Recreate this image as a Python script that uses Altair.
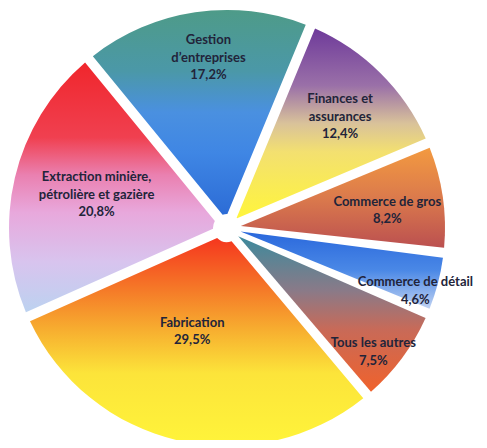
import math
import altair as alt
import pandas as pd

# ---- data ----
names = [
    "Gestion d’entreprises",
    "Finances et assurances",
    "Commerce de gros",
    "Commerce de détail",
    "Tous les autres",
    "Fabrication",
    "Extraction minière, pétrolière et gazière",
]
values = [17.2, 12.4, 8.2, 4.6, 7.5, 29.5, 20.8]
label_lines = [
    ["Gestion", "d’entreprises"],
    ["Finances et", "assurances"],
    ["Commerce de gros"],
    ["Commerce de détail"],
    ["Tous les autres"],
    ["Fabrication"],
    ["Extraction minière,", "pétrolière et gazière"],
]
pct_labels = ["17,2%", "12,4%", "8,2%", "4,6%", "7,5%", "29,5%", "20,8%"]

df = pd.DataFrame({
    "name": names,
    "value": values,
    "label": ["\n".join(l + [p]) for l, p in zip(label_lines, pct_labels)],
})

# ---- styles ----
def grad(stops):
    return {
        "gradient": "linear", "x1": 0, "y1": 0, "x2": 0, "y2": 1,
        "stops": [{"offset": o, "color": c} for o, c in stops],
    }

gradients = [
    grad([(0, "#4e9b88"), (0.3, "#4b98a8"), (0.5, "#4a90e0"), (0.7, "#3f86e4"), (1, "#2c6cd6")]),
    grad([(0, "#6e3a9a"), (0.3, "#9a70a8"), (0.5, "#d9c29a"), (0.65, "#f3e070"), (1, "#fff53c")]),
    grad([(0, "#f39a40"), (0.5, "#db7a4c"), (1, "#bb5050")]),
    grad([(0, "#2a68dc"), (0.5, "#4a88e6"), (1, "#c0d2f2")]),
    grad([(0, "#3d8a9c"), (0.35, "#8a7a88"), (0.6, "#c86a58"), (1, "#f0622c")]),
    grad([(0, "#f5361e"), (0.25, "#f57a28"), (0.45, "#f7b030"), (0.65, "#fce43a"), (1, "#fff43a")]),
    grad([(0, "#f0262c"), (0.3, "#f04050"), (0.45, "#ea80b0"), (0.6, "#e8a8dc"), (0.8, "#d8c4ee"), (1, "#bcd2f0")]),
]
label_radius = [175, 162, 164, 200, 192, 106, 132]
label_shift = [(7, 3), (-1, 4), (-2, 6), (-5, 12), (-8, 10), (-11, 0), (-2, -3)]
line_height = 17.5

start = math.radians(-39.3)
theta = alt.Theta("value:Q", stack=True,
                  scale=alt.Scale(range=[start, start + 2 * math.pi]))
cx, cy = 219, 220

base = alt.Chart(df).transform_window(idx="row_number()")

fill_def = {
    "condition": [
        {"test": f"datum.idx == {i + 1}", "value": g}
        for i, g in enumerate(gradients[:-1])
    ],
    "value": gradients[-1],
}

pie = base.mark_arc(outerRadius=218, innerRadius=14, padAngle=0.046,
                    stroke=None).encode(
    theta=theta,
    order=alt.Order("idx:Q"),
    fill=fill_def,
    x=alt.value(cx),
    y=alt.value(cy),
)

layers = [pie]
for i, r in enumerate(label_radius):
    n_lines = len(label_lines[i]) + 1
    sdx, sdy = label_shift[i]
    layers.append(
        base.mark_text(radius=r, font="Lato", fontSize=13, fontWeight="bold",
                       color="#22243a", lineBreak="\n", lineHeight=line_height,
                       align="center", baseline="middle",
                       dx=sdx, dy=sdy - (n_lines - 1) * line_height / 2).encode(
            theta=theta,
            order=alt.Order("idx:Q"),
            text=alt.condition(f"datum.idx == {i + 1}", alt.Text("label:N"), alt.value("")),
            x=alt.value(cx),
            y=alt.value(cy),
        )
    )

chart = alt.layer(*layers).properties(
    width=471, height=432,
    autosize=alt.AutoSizeParams(type="none"),
    padding=0,
    background="white",
).configure_view(stroke=None)

chart.save("out.html", embed_options={"renderer": "svg", "actions": False})
